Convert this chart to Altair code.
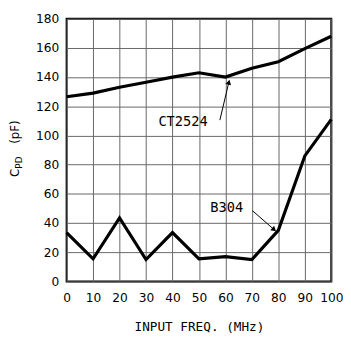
import altair as alt
import pandas as pd

freq = [0, 10, 20, 30, 40, 50, 60, 70, 80, 90, 100]
ct2524 = [126.5, 129, 133, 136.5, 140, 143, 140, 146, 150.5, 159.5, 168]
b304 = [33.5, 15.5, 43.5, 15, 33.5, 15.5, 17, 15, 35, 86, 111]

x_ticks = list(range(0, 101, 10))
y_ticks = list(range(0, 181, 20))

rows = []
for f, v in zip(freq, ct2524):
    rows.append({"f": f, "c": v, "s": "CT2524"})
for f, v in zip(freq, b304):
    rows.append({"f": f, "c": v, "s": "B304"})
df = pd.DataFrame(rows)

label_names = ["CT2524", "B304"]
label_x = [44, 60.5]
label_y = [109.5, 50.5]
labels = pd.DataFrame({"t": label_names, "x": label_x, "y": label_y})

arrow_x = [57.9, 70.2]
arrow_y = [110.5, 48.5]
arrow_x2 = [61.3, 78.4]
arrow_y2 = [136.5, 35.5]
arrow_angle = [14, 131]
arrows = pd.DataFrame({"x": arrow_x, "y": arrow_y, "x2": arrow_x2, "y2": arrow_y2, "a": arrow_angle})

xs = alt.Scale(domain=[0, 100], nice=False)
ys = alt.Scale(domain=[0, 180], nice=False)

xaxis = alt.Axis(values=x_ticks, title="INPUT FREQ. (MHz)", grid=True, ticks=False, domain=False,
                 labelFont="DejaVu Sans", labelFontSize=12.5, labelColor="black", labelPadding=11,
                 titleFont="DejaVu Sans Mono", titleFontSize=13, titleFontWeight="normal",
                 titleColor="black", titlePadding=17, gridColor="#666666", gridWidth=1, gridOpacity=1,
                 labelFlush=False, labelOverlap=False)
yaxis = alt.Axis(values=y_ticks, title=None, grid=True, ticks=False, domain=False,
                 labelFont="DejaVu Sans", labelFontSize=12.5, labelColor="black", labelPadding=8,
                 gridColor="#666666", gridWidth=1, gridOpacity=1, labelFlush=False, labelOverlap=False)

X = lambda field: alt.X(field, scale=xs, axis=xaxis)
Y = lambda field: alt.Y(field, scale=ys, axis=yaxis)

lines = alt.Chart(df).mark_line(color="black", strokeWidth=3.2, strokeJoin="miter").encode(
    x=X("f:Q"), y=Y("c:Q"), detail="s:N",
)

text = alt.Chart(labels).mark_text(font="DejaVu Sans Mono", fontSize=14, color="black",
                                   align="center", baseline="middle").encode(
    x=X("x:Q"), y=Y("y:Q"), text="t:N")

rules = alt.Chart(arrows).mark_rule(color="black", strokeWidth=1).encode(
    x=X("x:Q"), y=Y("y:Q"), x2="x2:Q", y2="y2:Q")

heads = alt.Chart(arrows).mark_point(shape="triangle-up", filled=True, color="black", size=35,
                                     opacity=1).encode(
    x=X("x2:Q"), y=Y("y2:Q"), angle=alt.Angle("a:Q", scale=None))

yt_c = alt.Chart(pd.DataFrame({"t": ["C"]})).mark_text(
    font="DejaVu Sans", fontSize=12, angle=270, align="left", baseline="alphabetic", color="black"
).encode(x=alt.value(-49), y=alt.value(162), text="t:N")
yt_pd = alt.Chart(pd.DataFrame({"t": ["PD"]})).mark_text(
    font="DejaVu Sans", fontSize=9, angle=270, align="left", baseline="alphabetic", color="black"
).encode(x=alt.value(-46), y=alt.value(153.5), text="t:N")
yt_pf = alt.Chart(pd.DataFrame({"t": ["(pF)"]})).mark_text(
    font="DejaVu Sans", fontSize=12, angle=270, align="left", baseline="alphabetic", color="black"
).encode(x=alt.value(-49), y=alt.value(128), text="t:N")

chart = alt.layer(lines, rules, heads, text, yt_c, yt_pd, yt_pf).properties(
    width=271, height=269,
    autosize=alt.AutoSizeParams(type="none"),
    padding={"left": 60, "top": 7, "right": 12, "bottom": 56},
    background="white",
).configure_view(stroke="black", strokeWidth=2)

chart.save("out.html", embed_options={"renderer": "svg", "actions": False})
